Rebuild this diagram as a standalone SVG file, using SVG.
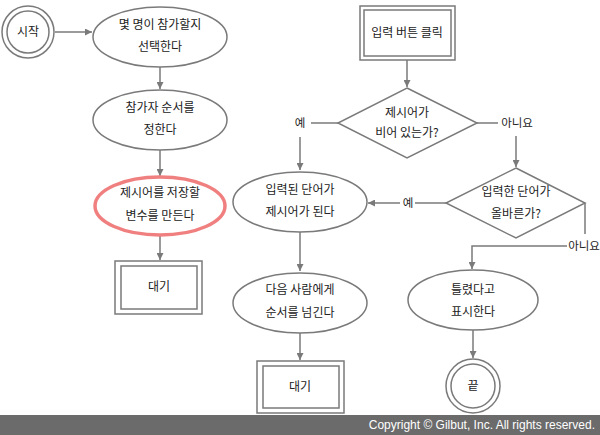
<svg xmlns="http://www.w3.org/2000/svg" width="600" height="435" viewBox="0 0 600 435">
<style>
.s{fill:#fff;stroke:#7a7a7a;stroke-width:1.5}
.r{fill:#fff;stroke:#f08080;stroke-width:3.5}
.t{font-family:"Noto Sans CJK KR","Noto Sans",sans-serif;font-size:12px;fill:#222;text-anchor:middle}
.c{fill:none;stroke:#7a7a7a;stroke-width:1.5}
.l{font-family:"Noto Sans CJK KR","Noto Sans",sans-serif;font-size:11.5px;fill:#222;text-anchor:middle}
</style>
<defs>
<marker id="a" viewBox="0 0 10 10" refX="10" refY="5" markerWidth="7" markerHeight="7" markerUnits="userSpaceOnUse" orient="auto">
<path d="M0,0 L10,5 L0,10 z" fill="#7a7a7a"/>
</marker>
</defs>
<rect width="600" height="435" fill="#fff"/>
<g id="connectors">
<path class="c" d="M55,32 H92" marker-end="url(#a)"/>
<path class="c" d="M160,67 V89" marker-end="url(#a)"/>
<path class="c" d="M160,150 V176" marker-end="url(#a)"/>
<path class="c" d="M160,235 V260" marker-end="url(#a)"/>
<path class="c" d="M407,60 V87" marker-end="url(#a)"/>
<path class="c" d="M338,123 H311"/>
<path class="c" d="M300,137 V170" marker-end="url(#a)"/>
<path class="c" d="M477,123 H498"/>
<path class="c" d="M516,136 V167" marker-end="url(#a)"/>
<path class="c" d="M446,203 H415"/>
<path class="c" d="M400,203 H368" marker-end="url(#a)"/>
<path class="c" d="M585,203 V234"/>
<path class="c" d="M567,246 H472 V269" marker-end="url(#a)"/>
<path class="c" d="M300,232 V271" marker-end="url(#a)"/>
<path class="c" d="M300,333 V360" marker-end="url(#a)"/>
<path class="c" d="M473,330 V358" marker-end="url(#a)"/>
<text class="l" x="300" y="127">예</text>
<text class="l" x="517" y="127">아니요</text>
<text class="l" x="408" y="207">예</text>
<text class="l" x="584" y="250">아니요</text>
</g>
<g id="start">
<circle class="s" cx="28" cy="32" r="26"/>
<circle class="s" cx="28" cy="32" r="21"/>
<text class="t" x="28" y="36">시작</text>
</g>
<g id="choose">
<ellipse class="s" cx="160" cy="37" rx="67" ry="30"/>
<text class="t" x="160" y="29">몇 명이 참가할지</text>
<text class="t" x="160" y="51">선택한다</text>
</g>
<g id="order">
<ellipse class="s" cx="160" cy="120" rx="67" ry="30"/>
<text class="t" x="160" y="112">참가자 순서를</text>
<text class="t" x="160" y="134">정한다</text>
</g>
<g id="variable">
<ellipse class="r" cx="160" cy="206" rx="65" ry="29"/>
<text class="t" x="160" y="197">제시어를 저장할</text>
<text class="t" x="160" y="220">변수를 만든다</text>
</g>
<g id="wait1">
<rect class="s" x="115" y="261" width="87" height="53"/>
<rect class="s" x="121" y="266" width="76" height="43"/>
<text class="t" x="159" y="291">대기</text>
</g>
<g id="click">
<rect class="s" x="360" y="6" width="95" height="54"/>
<rect class="s" x="364" y="10" width="87" height="46"/>
<text class="t" x="407" y="37">입력 버튼 클릭</text>
</g>
<g id="empty">
<polygon class="s" points="407,88 477,123 407,158 338,123"/>
<text class="t" x="407" y="117">제시어가</text>
<text class="t" x="407" y="137">비어 있는가?</text>
</g>
<g id="setword">
<ellipse class="s" cx="300" cy="202" rx="67" ry="30"/>
<text class="t" x="300" y="194">입력된 단어가</text>
<text class="t" x="300" y="216">제시어가 된다</text>
</g>
<g id="correct">
<polygon class="s" points="516,168 585,203 516,238 446,203"/>
<text class="t" x="516" y="196">입력한 단어가</text>
<text class="t" x="516" y="218">올바른가?</text>
</g>
<g id="next">
<ellipse class="s" cx="300" cy="303" rx="67" ry="30"/>
<text class="t" x="300" y="294">다음 사람에게</text>
<text class="t" x="300" y="317">순서를 넘긴다</text>
</g>
<g id="wait2">
<rect class="s" x="257" y="361" width="87" height="52"/>
<rect class="s" x="263" y="366" width="76" height="42"/>
<text class="t" x="300" y="391">대기</text>
</g>
<g id="wrong">
<ellipse class="s" cx="473" cy="300" rx="65" ry="30"/>
<text class="t" x="473" y="294">틀렸다고</text>
<text class="t" x="473" y="316">표시한다</text>
</g>
<g id="end">
<circle class="s" cx="473" cy="386" r="27"/>
<circle class="s" cx="473" cy="386" r="22"/>
<text class="t" x="473" y="390">끝</text>
</g>
<rect x="0" y="415" width="600" height="20" fill="#6b6b6b"/>
<text x="595" y="429" font-family="Liberation Sans, Arial, sans-serif" font-size="12" fill="#fff" text-anchor="end">Copyright © Gilbut, Inc. All rights reserved.</text>
</svg>
